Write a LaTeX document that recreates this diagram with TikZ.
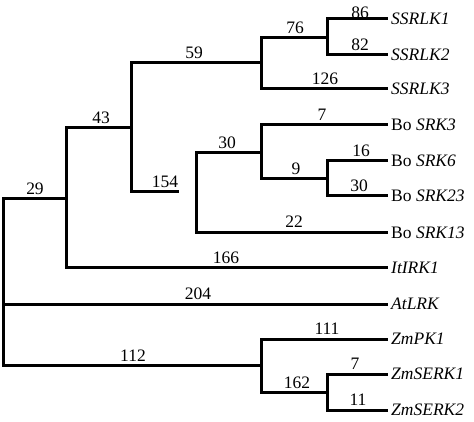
\documentclass[tikz,border=0pt]{standalone}
\usepackage{fontspec}
\setmainfont{Liberation Serif}
\newcommand\treefont{\fontsize{17.5}{21}\selectfont}
\tikzset{
  branch/.style={line width=3pt, line cap=butt, line join=miter},
  blen/.style={anchor=base, inner sep=0pt},
  leaf/.style={anchor=west, inner sep=3pt, font=\treefont\itshape},
  boleaf/.style={anchor=west, inner sep=3pt, font=\treefont}
}
\begin{document}
\begin{tikzpicture}[x=1pt, y=-1pt, font=\treefont]
\useasboundingbox (0,0) rectangle (474,422);
% inner nodes of the tree
\coordinate (root) at (3,282);
\coordinate (n29) at (66,199);
\coordinate (n43) at (131,128);
\coordinate (n59) at (261,63);
\coordinate (n76) at (327,38);
\coordinate (n154) at (179,192);
\coordinate (n30) at (196,192);
\coordinate (nbo) at (261,153);
\coordinate (n9) at (327,179);
\coordinate (n112) at (261,365);
\coordinate (n162) at (327,392);
% leaves
\node[leaf] (SSRLK1) at (388,19) {SSRLK1};
\node[leaf] (SSRLK2) at (388,55) {SSRLK2};
\node[leaf] (SSRLK3) at (388,89) {SSRLK3};
\node[boleaf] (SRK3) at (388,125) {Bo \textit{SRK3}};
\node[boleaf] (SRK6) at (388,161) {Bo \textit{SRK6}};
\node[boleaf] (SRK23) at (388,196) {Bo \textit{SRK23}};
\node[boleaf] (SRK13) at (388,233) {Bo \textit{SRK13}};
\node[leaf] (ItIRK1) at (388,268) {ItIRK1};
\node[leaf] (AtLRK) at (388,304) {AtLRK};
\node[leaf] (ZmPK1) at (388,339) {ZmPK1};
\node[leaf] (ZmSERK1) at (388,374) {ZmSERK1};
\node[leaf] (ZmSERK2) at (388,410) {ZmSERK2};
% branches
\draw[branch] (root) |- (n29);
\draw[branch] (root) |- (AtLRK.west);
\draw[branch] (root) |- (n112);
\draw[branch] (n29) |- (n43);
\draw[branch] (n29) |- (ItIRK1.west);
\draw[branch] (n43) |- (n59);
\draw[branch] (n43) |- (n154);
\draw[branch] (n59) |- (n76);
\draw[branch] (n59) |- (SSRLK3.west);
\draw[branch] (n76) |- (SSRLK1.west);
\draw[branch] (n76) |- (SSRLK2.west);
\draw[branch] (n30) |- (nbo);
\draw[branch] (n30) |- (SRK13.west);
\draw[branch] (nbo) |- (SRK3.west);
\draw[branch] (nbo) |- (n9);
\draw[branch] (n9) |- (SRK6.west);
\draw[branch] (n9) |- (SRK23.west);
\draw[branch] (n112) |- (ZmPK1.west);
\draw[branch] (n112) |- (n162);
\draw[branch] (n162) |- (ZmSERK1.west);
\draw[branch] (n162) |- (ZmSERK2.west);
% branch lengths
\node[blen] (l29) at (35,195) {29};
\node[blen] (l43) at (101,124) {43};
\node[blen] (l59) at (194,59) {59};
\node[blen] (l154) at (165,188) {154};
\node[blen] (l30a) at (227,149) {30};
\node[blen] (l76) at (295,34) {76};
\node[blen] (l86) at (360,19) {86};
\node[blen] (l82) at (360,51) {82};
\node[blen] (l126) at (325,85) {126};
\node[blen] (l7a) at (322,121) {7};
\node[blen] (l9) at (296,175) {9};
\node[blen] (l16) at (361,157) {16};
\node[blen] (l30b) at (359,192) {30};
\node[blen] (l22) at (294,228) {22};
\node[blen] (l166) at (226,263) {166};
\node[blen] (l204) at (198,299) {204};
\node[blen] (l112) at (133,361) {112};
\node[blen] (l111) at (327,334) {111};
\node[blen] (l162) at (297,388) {162};
\node[blen] (l7b) at (355,369) {7};
\node[blen] (l11) at (358,405) {11};
\end{tikzpicture}
\end{document}
